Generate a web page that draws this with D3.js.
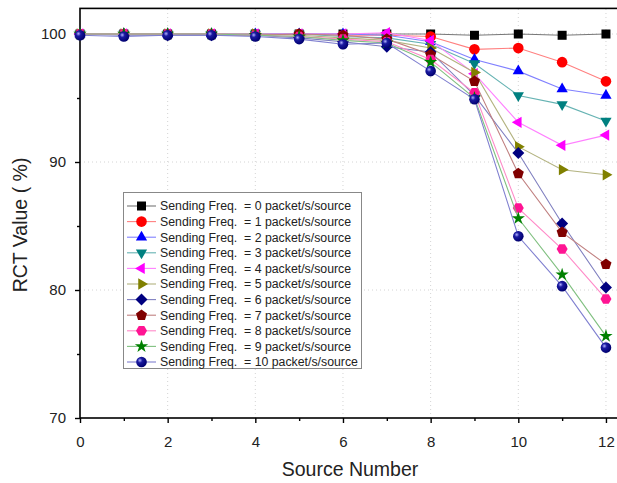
<!DOCTYPE html>
<html>
<head>
<meta charset="utf-8">
<script src="https://cdn.jsdelivr.net/npm/d3@7"></script>
<style>
  body { margin: 0; background: #fff; }
  svg { display: block; font-family: "Liberation Sans", Arial, sans-serif; }
</style>
</head>
<body>
<svg id="chart" width="617" height="483"></svg>
<script>
// source numbers on the x axis
var sources = [0, 1, 2, 3, 4, 5, 6, 7, 8, 9, 10, 11, 12];

// sending frequency of each series (packet/s/source)
var freqs = [0, 1, 2, 3, 4, 5, 6, 7, 8, 9, 10];

// RCT values (%), one array per frequency
var rct0  = [100, 100, 100, 100, 100, 100, 100, 100, 100, 99.9, 100, 99.9, 100];
var rct1  = [100, 100, 100, 100, 100, 100, 99.9, 99.9, 99.8, 98.8, 98.9, 97.8, 96.3];
var rct2  = [100, 100, 100, 100, 100, 100, 100, 99.9, 99.4, 98.0, 97.1, 95.7, 95.2];
var rct3  = [100, 100, 100, 100, 100, 100, 99.8, 99.7, 99.2, 97.7, 95.2, 94.5, 93.2];
var rct4  = [100, 100, 100, 100, 100, 100, 100, 100.1, 99.5, 96.9, 93.1, 91.3, 92.1];
var rct5  = [100, 100, 100, 100, 100, 99.9, 99.7, 99.5, 98.9, 97.0, 91.2, 89.4, 89.0];
var rct6  = [100, 99.9, 99.9, 99.9, 99.9, 99.7, 99.4, 99.0, 98.6, 95.2, 90.7, 85.2, 80.2];
var rct7  = [100, 100, 100, 100, 99.9, 100, 99.9, 99.6, 98.4, 96.3, 89.1, 84.5, 82.0];
var rct8  = [100, 100, 100, 100, 99.9, 99.8, 99.6, 99.4, 98.0, 95.4, 86.4, 83.2, 79.3];
var rct9  = [100, 100, 100, 100, 99.9, 99.8, 99.5, 99.3, 97.8, 95.0, 85.6, 81.2, 76.4];
var rct10 = [99.9, 99.8, 99.9, 99.9, 99.8, 99.6, 99.2, 99.3, 97.1, 94.9, 84.2, 80.3, 75.5];

var allValues = [rct0, rct1, rct2, rct3, rct4, rct5, rct6, rct7, rct8, rct9, rct10];

var xTicks = [0, 2, 4, 6, 8, 10, 12];
var yTicks = [70, 80, 90, 100];

var colors = ["#000000", "#ff0000", "#0000ff", "#008080", "#ff00ff", "#808000",
              "#000080", "#800000", "#ff1493", "#008000", "#000099"];
var lineColors = ["#777777", "#ff8080", "#8080ff", "#66b3b3", "#ff80ff", "#b3b380",
                  "#8080c0", "#c08080", "#ff8ac8", "#80c080", "#8080d0"];
var shapes = ["square", "circle", "up", "down", "left", "right", "diamond",
              "pentagon", "hexagon", "star", "ball"];

var svg = d3.select("#chart");

var x = d3.scaleLinear().domain([0, 12.5]).range([80, 80 + 12.5 * 43.83]);
var y = d3.scaleLinear().domain([70, 102]).range([418, 8.4]);

// grid
svg.append("g").selectAll("line").data(xTicks.slice(1)).join("line")
    .attr("x1", d => x(d)).attr("x2", d => x(d))
    .attr("y1", y(70)).attr("y2", y(102))
    .attr("stroke", "#d4d4d4").attr("stroke-dasharray", "1,3");
svg.append("g").selectAll("line").data(yTicks.slice(1)).join("line")
    .attr("x1", x(0)).attr("x2", x(12.5))
    .attr("y1", d => y(d)).attr("y2", d => y(d))
    .attr("stroke", "#d4d4d4").attr("stroke-dasharray", "1,3");

// frame
svg.append("rect")
    .attr("x", x(0)).attr("y", y(102))
    .attr("width", x(12.5) - x(0)).attr("height", y(70) - y(102))
    .attr("fill", "none").attr("stroke", "#000").attr("stroke-width", 1.6);

// axes
svg.append("g").attr("transform", "translate(0," + y(70) + ")")
    .call(d3.axisBottom(x).tickValues(xTicks).tickFormat(d3.format("d")).tickSize(5).tickPadding(13));
svg.append("g").attr("transform", "translate(0," + y(70) + ")")
    .call(d3.axisBottom(x).tickValues([1, 3, 5, 7, 9, 11]).tickFormat("").tickSize(3));
svg.append("g").attr("transform", "translate(" + x(0) + ",0)")
    .call(d3.axisLeft(y).tickValues(yTicks).tickSize(5).tickPadding(9));
svg.append("g").attr("transform", "translate(" + x(0) + ",0)")
    .call(d3.axisLeft(y).tickValues([75, 85, 95]).tickFormat("").tickSize(3));

svg.selectAll(".domain").remove();
svg.selectAll(".tick line").attr("stroke", "#000").attr("stroke-width", 1.4);
svg.selectAll(".tick text").attr("font-size", 15).attr("fill", "#222")
    .attr("font-family", "Liberation Sans, Arial, sans-serif");

svg.append("text").attr("x", 350).attr("y", 476).attr("text-anchor", "middle")
    .attr("font-size", 19.5).attr("fill", "#222").text("Source Number");
svg.append("text").attr("transform", "translate(27,225) rotate(-90)")
    .attr("text-anchor", "middle").attr("font-size", 19.5).attr("fill", "#222")
    .text("RCT Value ( %)");

// ball gradient
var grad = svg.append("defs").append("radialGradient").attr("id", "ball")
    .attr("cx", "35%").attr("cy", "35%").attr("r", "65%");
grad.append("stop").attr("offset", "0%").attr("stop-color", "#b0b0ff");
grad.append("stop").attr("offset", "35%").attr("stop-color", "#1a1aa0");
grad.append("stop").attr("offset", "100%").attr("stop-color", "#000070");

function polygon(n, r, rot) {
    var pts = [];
    for (var i = 0; i < n; i++) {
        var a = rot + i * 2 * Math.PI / n;
        pts.push([r * Math.cos(a), r * Math.sin(a)]);
    }
    return "M" + pts.map(p => p.join(",")).join("L") + "Z";
}

function markerPath(shape) {
    switch (shape) {
        case "square": return "M-4.5,-4.5H4.5V4.5H-4.5Z";
        case "up": return polygon(3, 6.5, -Math.PI / 2);
        case "down": return polygon(3, 6.5, Math.PI / 2);
        case "left": return polygon(3, 6.5, Math.PI);
        case "right": return polygon(3, 6.5, 0);
        case "diamond": return polygon(4, 6, -Math.PI / 2);
        case "pentagon": return polygon(5, 5.8, -Math.PI / 2);
        case "hexagon": return polygon(6, 5.5, 0);
        case "star": return d3.symbol(d3.symbolStar, 55)();
        default: return null;
    }
}

function drawMarker(g, shape, i, cx, cy) {
    if (shape === "circle" || shape === "ball") {
        g.append("circle").attr("cx", cx).attr("cy", cy).attr("r", 5.3)
            .attr("fill", shape === "ball" ? "url(#ball)" : colors[i]);
    } else {
        g.append("path").attr("d", markerPath(shape))
            .attr("transform", "translate(" + cx + "," + cy + ")")
            .attr("fill", colors[i]);
    }
}

var line = d3.line().x((d, j) => x(sources[j])).y(d => y(d));

freqs.forEach(function (f, i) {
    var g = svg.append("g");
    g.append("path").attr("d", line(allValues[i]))
        .attr("fill", "none").attr("stroke", lineColors[i]).attr("stroke-width", 1.1);
    allValues[i].forEach(function (v, j) {
        drawMarker(g, shapes[i], i, x(sources[j]), y(v));
    });
});

// legend
var lg = svg.append("g");
lg.append("rect").attr("x", 123.5).attr("y", 192.5).attr("width", 238).attr("height", 176)
    .attr("fill", "#fff").attr("stroke", "#888").attr("stroke-width", 1);
freqs.forEach(function (f, i) {
    var ry = 206 + i * 15.6;
    lg.append("line").attr("x1", 127).attr("x2", 156).attr("y1", ry).attr("y2", ry)
        .attr("stroke", lineColors[i]).attr("stroke-width", 1.1);
    drawMarker(lg, shapes[i], i, 141.5, ry);
    lg.append("text").attr("x", 160).attr("y", ry + 4.3).attr("font-size", 12.3)
        .attr("fill", "#222").attr("xml:space", "preserve")
        .text("Sending Freq.  = " + f + " packet/s/source");
});
</script>
</body>
</html>
